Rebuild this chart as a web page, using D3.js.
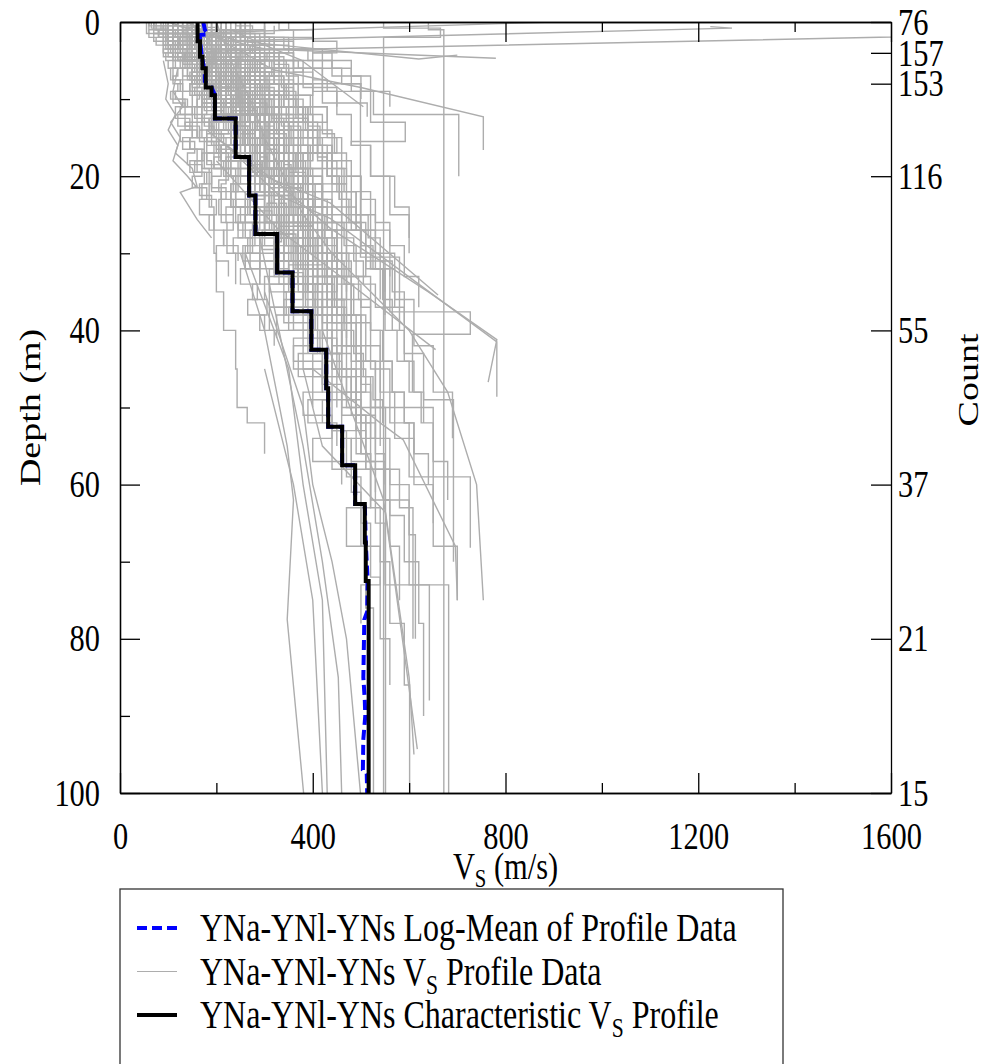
<!DOCTYPE html>
<html>
<head>
<meta charset="utf-8">
<script src="https://cdn.jsdelivr.net/npm/d3@7"></script>
<style>
  body { margin: 0; background: #fff; }
  svg text { font-family: "Liberation Serif", "Times New Roman", serif; fill: #000; }
</style>
</head>
<body>
<svg id="chart" width="987" height="1064"></svg>
<script>
// characteristic profile: layer boundaries (m) and Vs (m/s) per layer
const charDepths = [0, 2.5, 4.5, 6, 8.5, 9.5, 12.5, 17.5, 22.5, 27.5, 32.5, 37.5, 42.5, 47.5, 52.5, 57.5, 62.5, 67.5, 72.5, 100];
const charVs = [161, 166, 171, 178, 190, 197, 240, 268, 281, 326, 358, 397, 428, 432, 461, 488, 508, 510, 516];

// log-mean of profile data, [Vs, depth]
const logMean = [
  [173, 0], [176, 1.0], [181, 1.4], [181, 1.6], [166, 1.7], [166, 2.5], [170, 4.5], [176, 6.5], [176, 7.7],
  [190, 8.5], [197, 9.5], [197, 12.5], [240, 12.5], [240, 17.5], [268, 17.5], [268, 22.5], [281, 22.5],
  [281, 27.5], [326, 27.5], [326, 32.5], [358, 32.5], [358, 37.5], [397, 37.5], [397, 42.5], [428, 42.5],
  [428, 47.5], [432, 47.5], [432, 52.5], [461, 52.5], [461, 57.5], [488, 57.5], [488, 62.5], [508, 62.5],
  [510, 67.5], [514, 72.5], [513, 76.5], [507, 77.5], [505, 85], [508, 88], [509, 90], [505, 93],
  [504, 97], [512, 97.5], [513, 100]
];

// right-hand count axis
const countDepths = [0, 4, 8, 20, 40, 60, 80, 100];
const countLabels = [76, 157, 153, 116, 55, 37, 21, 15];

const xTicks = [0, 400, 800, 1200, 1600];
const xMinor = [200, 600, 1000, 1400];
const yTicks = [0, 20, 40, 60, 80, 100];
const yMinor = [10, 30, 50, 70, 90];

// layered Vs profiles: [top depth, [[Vs, bottom depth], ...]]
const stepProfiles = [
  [0, [[85, 1], [110, 2.5], [150, 4], [190, 6], [230, 9]]],
  [1, [[60, 2], [95, 3.5], [140, 5], [175, 7.5], [200, 10], [240, 13]]],
  [0, [[140, 1.5], [170, 3], [210, 5], [250, 7], [300, 9], [340, 11]]],
  [0.5, [[200, 2], [260, 4], [320, 5.5], [350, 8], [420, 10.5], [513, 12.3]]],
  [2, [[75, 3], [110, 4.5], [160, 6.5], [210, 9], [250, 12], [290, 15]]],
  [0, [[180, 1], [230, 2.5], [280, 4], [330, 6], [380, 8.5], [450, 11]]],
  [1.5, [[120, 3], [150, 5], [180, 7], [220, 10], [270, 14], [300, 17]]],
  [0, [[55, 1.5], [90, 3], [130, 5], [160, 8]]],
  [3, [[160, 5], [200, 7.5], [230, 10], [280, 13], [310, 16], [350, 19]]],
  [0, [[250, 1], [300, 2], [350, 3.5], [420, 5], [480, 7], [520, 9]]],
  [1, [[100, 2.5], [140, 4], [170, 6], [200, 9], [260, 12], [300, 16], [330, 19]]],
  [0, [[130, 2], [180, 4], [200, 6], [240, 8], [270, 11]]],
  [2.5, [[190, 4], [230, 6], [270, 8], [310, 11], [360, 14], [400, 18]]],
  [0, [[95, 1], [130, 2], [165, 3.5], [195, 5.5], [220, 8], [255, 11], [285, 14]]],
  [0.5, [[300, 2], [340, 3.5], [390, 5], [440, 7], [500, 9], [560, 11]]],
  [1, [[80, 2], [120, 3.5], [160, 5.5], [200, 8]]],
  [0, [[210, 2.5], [250, 5], [290, 8], [330, 12], [380, 16], [420, 19]]],
  [4, [[140, 6], [170, 8], [200, 11], [250, 15], [290, 18]]],
  [0, [[65, 0.8], [100, 2], [125, 3.5], [150, 5], [185, 7], [205, 9.5], [235, 12]]],
  [2, [[170, 3.5], [150, 5], [190, 7], [240, 9], [260, 12], [310, 15]]],
  [0, [[350, 1], [400, 2.5], [450, 4], [400, 6], [460, 8], [500, 10]]],
  [1, [[115, 2], [145, 3], [165, 4.5], [185, 6.5], [205, 9], [230, 11.5], [260, 14], [280, 17]]],
  [0, [[160, 0.7], [140, 2], [175, 3.5], [200, 5], [230, 7], [270, 9], [310, 12]]],
  [3, [[100, 4.5], [125, 6], [150, 8], [175, 10], [195, 12], [215, 14], [240, 17], [270, 20]]],
  [0, [[120, 1], [140, 2], [125, 3], [160, 4], [150, 5], [180, 6], [170, 7], [200, 8], [190, 9], [220, 10]]],
  [0.5, [[200, 1.5], [180, 2.5], [210, 3.5], [240, 4.5], [220, 5.5], [250, 6.5], [280, 8], [260, 9.5], [300, 11]]],
  [1, [[90, 2], [110, 3], [105, 4], [130, 5], [145, 6], [160, 7], [150, 8], [175, 9], [190, 10], [210, 12]]],
  [0, [[230, 1], [260, 2], [240, 3], [270, 4], [300, 5], [280, 6], [320, 7], [300, 8], [340, 9]]],
  [2, [[140, 3], [160, 4], [180, 5], [170, 6], [200, 7], [190, 8], [220, 9], [240, 10.5], [260, 12], [290, 14]]],
  [0, [[60, 1], [80, 2], [100, 3], [115, 4], [140, 5], [160, 6], [180, 8], [200, 10]]],
  [1.5, [[170, 2.5], [190, 3.5], [175, 4.5], [210, 5.5], [230, 7], [250, 8.5], [270, 10], [295, 12]]],
  [0, [[110, 0.5], [150, 1.5], [170, 2.5], [155, 3.5], [190, 4.5], [210, 6], [230, 7.5], [220, 9], [250, 10.5], [270, 12], [290, 14]]],
  [3, [[120, 4], [145, 5], [165, 6], [185, 7], [210, 8.5], [230, 10], [250, 12], [270, 14], [300, 16]]],
  [0, [[250, 1.5], [220, 3], [260, 4.5], [290, 6], [270, 7.5], [310, 9], [350, 11], [380, 13]]],
  [1, [[80, 1.5], [100, 2.5], [120, 3.5], [135, 4.5], [150, 5.5], [170, 7], [185, 8.5], [200, 10], [215, 12], [230, 14], [250, 16]]],
  [0, [[180, 0.7], [200, 1.5], [190, 2.5], [220, 3.5], [240, 5], [260, 6.5], [250, 8], [280, 9.5], [300, 11], [320, 13], [340, 15]]],
  [2, [[100, 3], [130, 4], [115, 5], [150, 6], [170, 7], [160, 8], [190, 9], [210, 10], [230, 12]]],
  [0, [[140, 1], [165, 2], [180, 3], [200, 4], [185, 5], [215, 6], [235, 7], [255, 8.5], [245, 10], [275, 12], [300, 14], [320, 17]]],
  [1, [[150, 2], [130, 3], [160, 4], [195, 5], [180, 6], [210, 7.5], [240, 9], [265, 11], [290, 13], [310, 15]]],
  [0, [[75, 1], [95, 2], [120, 3], [140, 4], [135, 5], [160, 6], [175, 7.5], [190, 9]]],
  [4, [[200, 5], [220, 6], [240, 7], [230, 8], [260, 9], [280, 10.5], [300, 12], [330, 14], [360, 16], [390, 18]]],
  [0.5, [[130, 1.5], [145, 2.5], [160, 3.5], [175, 4.5], [190, 5.5], [205, 6.5], [220, 7.5], [235, 9], [250, 10.5], [265, 12], [280, 13.5], [295, 15], [310, 17], [330, 19]]],
  [0, [[300, 1], [270, 2], [320, 3], [350, 4], [330, 5], [370, 6], [400, 7.5], [430, 9]]],
  [2.5, [[160, 3.5], [180, 4.5], [200, 5.5], [185, 6.5], [215, 7.5], [240, 9], [255, 10.5], [275, 12], [290, 14], [320, 16]]],
  [1, [[110, 2], [125, 3], [150, 4], [140, 5], [170, 6], [190, 7], [205, 8], [225, 9.5], [245, 11], [260, 13], [280, 15], [300, 17], [320, 20]]],
  [0, [[190, 1], [215, 2], [235, 3], [220, 4], [250, 5], [275, 6.5], [300, 8], [290, 9.5], [320, 11], [345, 13], [370, 15]]],
  [3, [[90, 4], [110, 5], [130, 6], [150, 7], [165, 8], [180, 9], [200, 10.5], [215, 12], [235, 14], [255, 16], [275, 18], [295, 20]]],
  [0, [[160, 1.5], [175, 3], [195, 4.5], [215, 6], [230, 7.5], [245, 9], [265, 11], [285, 13], [305, 15], [325, 17]]],
  [0, [[70, 0.5], [90, 1], [80, 1.5], [100, 2], [95, 2.5], [115, 3], [105, 3.5], [125, 4], [120, 5], [140, 6], [130, 7], [150, 8], [145, 9], [165, 10], [160, 11], [180, 12], [175, 13.5], [195, 15]]],
  [1, [[130, 1.5], [115, 2], [140, 2.5], [125, 3], [150, 4], [135, 5], [160, 6], [150, 7], [170, 8], [160, 9], [185, 10], [175, 11.5], [200, 13], [190, 14.5], [215, 16], [205, 18], [230, 20]]],
  [0, [[160, 0.5], [180, 1], [170, 1.5], [195, 2], [185, 3], [205, 4], [195, 5], [220, 6], [210, 7], [235, 8], [225, 9], [250, 10], [240, 11.5], [265, 13], [255, 14.5], [280, 16], [270, 18], [295, 20]]],
  [2, [[110, 2.5], [130, 3], [120, 3.5], [140, 4.5], [130, 5.5], [155, 6.5], [145, 7.5], [165, 8.5], [155, 9.5], [180, 11], [170, 12.5], [190, 14], [180, 15.5], [205, 17], [195, 19], [220, 21], [210, 23], [235, 25]]],
  [0, [[210, 1], [240, 2], [225, 3], [260, 4], [245, 5], [275, 6], [260, 7.5], [290, 9], [275, 10.5], [305, 12], [290, 14], [320, 16], [305, 18], [335, 20], [320, 22.5], [350, 25], [335, 27.5], [365, 30]]],
  [3, [[150, 3.5], [165, 4], [155, 5], [175, 6], [165, 7], [190, 8], [180, 9], [200, 10], [190, 11.5], [215, 13], [205, 14.5], [230, 16], [220, 18], [245, 20], [235, 22], [260, 24], [250, 26], [275, 28], [265, 30], [290, 32]]],
  [0.5, [[100, 1], [120, 1.5], [110, 2], [135, 3], [125, 4], [150, 5], [140, 6], [165, 7], [155, 8], [180, 9.5], [170, 11], [195, 12.5], [185, 14], [210, 15.5], [200, 17], [225, 19]]],
  [1, [[190, 1.5], [215, 2], [200, 3], [230, 4], [215, 5], [245, 6], [230, 7], [260, 8.5], [245, 10], [275, 11.5], [260, 13], [290, 15], [275, 17], [305, 19], [290, 21], [320, 23.5], [305, 26], [335, 28.5], [320, 31], [350, 34]]],
  [0, [[240, 0.5], [275, 1], [255, 2], [290, 3], [270, 4], [305, 5], [285, 6.5], [320, 8], [300, 9.5], [335, 11], [315, 13], [350, 15], [330, 17], [365, 19], [345, 21.5], [380, 24], [360, 26.5], [395, 29], [375, 32], [410, 35]]],
  [2, [[200, 3], [180, 3.5], [210, 4.5], [190, 5.5], [225, 6.5], [205, 7.5], [240, 8.5], [220, 10], [255, 11.5], [235, 13], [270, 14.5], [250, 16], [285, 18], [265, 20], [300, 22], [280, 24.5], [315, 27], [295, 29.5], [330, 32], [310, 35], [345, 38], [325, 41]]],
  [5, [[100, 6], [120, 7], [110, 8], [130, 9], [115, 10], [140, 11], [125, 12], [150, 13], [135, 14], [160, 15], [145, 16.5], [170, 18], [155, 19.5], [180, 21], [165, 22.5], [190, 24]]],
  [8, [[120, 9], [105, 10], [135, 11], [115, 12.5], [145, 14], [125, 15.5], [155, 17], [140, 18.5], [170, 20], [150, 21.5], [180, 23], [165, 25], [195, 27]]],
  [4, [[95, 5], [115, 6], [105, 7.5], [125, 9], [110, 10.5], [135, 12], [120, 13.5], [150, 15], [130, 16.5], [160, 18], [145, 19.5], [175, 21]]],
  [6, [[140, 7], [160, 8], [145, 9.5], [170, 11], [155, 12.5], [185, 14], [165, 15.5], [195, 17], [180, 18.5], [210, 20], [190, 21.5], [220, 23], [205, 25], [235, 27], [215, 29], [245, 31]]],
  [10, [[130, 11], [150, 12], [135, 13.5], [165, 15], [145, 16.5], [175, 18], [160, 19.5], [190, 21], [170, 23], [200, 25], [185, 27], [215, 29], [200, 31], [225, 33]]],
  [3, [[180, 4], [165, 5], [190, 6], [175, 7], [200, 8.5], [185, 10], [215, 11.5], [195, 13], [225, 14.5], [205, 16], [240, 17.5], [220, 19], [250, 21], [230, 23], [265, 25], [245, 27], [280, 29], [255, 31], [290, 33]]],
  [12, [[170, 13], [195, 14.5], [180, 16], [210, 17.5], [195, 19], [225, 20.5], [205, 22], [240, 24], [220, 26], [255, 28], [235, 30], [270, 32], [250, 34], [285, 36], [265, 38], [300, 40]]],
  [15, [[200, 16.5], [230, 18], [215, 20], [245, 22], [230, 24], [260, 26], [245, 28], [275, 30], [260, 32], [290, 34], [275, 36], [305, 38], [290, 40], [320, 42]]],
  [0, [[100, 1], [220, 2], [140, 3], [260, 4.5], [180, 6], [300, 7.5], [200, 9], [280, 11], [230, 13], [320, 15]]],
  [1, [[250, 2], [130, 3.5], [200, 5], [150, 6.5], [240, 8], [180, 10], [290, 12], [220, 14], [330, 16], [260, 18], [350, 20]]],
  [0, [[180, 0.5], [90, 1.5], [160, 2.5], [120, 3.5], [210, 5], [170, 6.5], [260, 8], [210, 10], [300, 12], [250, 14], [330, 17], [290, 20], [380, 23]]],
  [2, [[300, 3], [200, 4], [250, 5.5], [170, 7], [240, 8.5], [200, 10], [280, 12], [240, 14], [310, 16], [270, 18], [340, 21], [300, 24], [370, 27], [330, 30]]],
  [0, [[130, 1], [80, 2], [150, 3], [110, 4.5], [190, 6], [140, 7.5], [210, 9], [170, 11], [240, 13], [200, 15], [270, 17], [230, 20], [300, 23], [260, 26], [330, 29], [290, 32]]],
  [0.5, [[220, 1.5], [160, 2.5], [280, 3.5], [190, 5], [320, 6.5], [230, 8], [350, 9.5], [260, 11], [380, 13], [280, 15], [400, 17], [310, 20], [420, 23]]],
  [3, [[170, 4], [120, 5], [200, 6], [150, 7], [230, 8.5], [170, 10], [250, 12], [190, 14], [280, 16], [210, 18], [300, 21], [240, 24], [330, 27], [270, 30], [360, 33], [300, 36]]],
  [0, [[60, 0.5], [120, 1.5], [70, 2.5], [140, 3.5], [90, 4.5], [160, 6], [110, 7.5], [180, 9], [130, 11], [200, 13], [150, 15], [220, 17], [170, 19], [240, 22]]],
  [1, [[190, 2], [260, 3], [210, 4], [290, 5], [230, 6.5], [310, 8], [250, 9.5], [330, 11], [270, 13], [350, 15], [290, 17], [370, 19], [310, 22], [390, 25], [330, 28], [410, 31], [350, 34], [430, 37]]],
  [0, [[150, 1.5], [230, 3], [170, 4.5], [250, 6], [190, 7.5], [270, 9], [210, 11], [290, 13], [230, 15], [310, 17], [250, 19], [330, 22], [270, 25], [350, 28], [290, 31], [370, 34], [310, 37], [390, 40]]],
  [2, [[110, 3], [170, 4], [130, 5], [190, 6.5], [150, 8], [210, 9.5], [170, 11], [230, 13], [190, 15], [250, 17], [210, 19], [270, 21], [230, 24], [290, 27]]],
  [0, [[270, 1], [200, 2], [310, 3], [240, 4.5], [340, 6], [260, 7.5], [360, 9], [280, 11], [390, 13], [310, 15], [420, 17], [340, 19]]],
  [1.5, [[140, 2.5], [100, 3.5], [170, 4.5], [130, 5.5], [200, 7], [150, 8.5], [220, 10], [170, 12], [250, 14], [190, 16], [270, 18], [220, 20], [300, 23], [240, 26], [320, 29], [260, 32], [350, 35]]],
  [0, [[200, 1], [250, 2], [180, 3], [280, 4], [210, 5.5], [300, 7], [240, 8.5], [320, 10], [260, 12], [350, 14], [280, 16], [370, 18], [300, 20], [400, 23], [330, 26], [420, 29], [360, 32], [450, 35], [380, 38], [470, 41]]],
  [4, [[130, 5], [190, 6], [150, 7.5], [220, 9], [170, 10.5], [240, 12], [190, 14], [270, 16], [210, 18], [290, 20], [240, 22], [310, 25], [260, 28], [340, 31], [290, 34], [360, 37], [310, 40], [390, 43]]],
  [0, [[90, 1], [150, 2], [110, 3], [180, 4], [130, 5], [200, 6], [150, 7.5], [220, 9], [170, 10.5], [240, 12], [190, 14], [260, 16], [210, 18]]],
  [0.5, [[320, 1.5], [250, 2.5], [360, 3.5], [280, 5], [380, 6.5], [300, 8], [400, 9.5], [320, 11], [430, 13], [350, 15], [450, 17], [370, 19], [470, 21], [390, 24], [490, 27], [420, 30], [510, 33], [440, 36]]],
  [2, [[160, 3], [220, 4], [180, 5], [240, 6], [200, 7.5], [260, 9], [220, 10.5], [280, 12], [240, 14], [300, 16], [260, 18], [320, 20], [280, 22.5], [340, 25], [300, 27.5], [360, 30], [320, 32.5], [380, 35], [340, 38], [400, 41], [360, 44], [420, 47]]],
  [0, [[170, 1], [130, 2], [190, 3], [150, 4], [210, 5], [170, 6], [230, 7.5], [190, 9], [250, 10.5], [210, 12], [270, 14], [230, 16], [290, 18], [250, 20], [310, 22.5], [270, 25], [330, 27.5], [290, 30]]],
  [1, [[240, 2], [180, 3], [270, 4], [200, 5], [290, 6.5], [220, 8], [310, 9.5], [250, 11], [330, 13], [270, 15], [350, 17], [290, 19], [380, 21.5], [310, 24], [400, 26.5], [330, 29], [420, 31.5], [350, 34], [440, 37], [380, 40], [460, 43], [400, 46], [480, 49], [420, 52]]],
  [0, [[200, 2], [260, 4], [220, 6], [280, 8], [240, 10], [300, 12], [260, 15], [320, 18], [280, 21], [340, 24], [300, 27], [360, 30], [320, 33], [380, 36], [340, 39], [400, 42], [360, 45], [420, 48], [380, 51], [440, 54], [400, 57], [460, 60]]],
  [1, [[150, 3], [210, 5], [180, 7], [240, 9], [210, 11], [270, 13.5], [240, 16], [300, 19], [270, 22], [330, 25], [300, 28], [360, 31], [330, 34], [390, 37], [350, 40], [410, 43], [370, 46], [430, 49], [390, 52], [450, 55]]],
  [0, [[260, 2], [320, 4], [280, 6], [350, 8], [300, 10], [370, 12.5], [330, 15], [400, 18], [350, 21], [420, 24], [380, 27], [450, 30], [400, 33], [470, 36], [420, 39], [490, 42], [440, 45], [510, 48], [460, 51], [530, 54], [480, 57], [550, 60]]],
  [0, [[180, 3], [220, 6], [260, 10], [300, 14], [340, 18], [370, 23], [400, 28], [430, 33], [400, 38], [460, 43], [420, 48], [490, 53], [440, 58], [520, 63], [470, 68], [540, 73], [500, 78]]],
  [0, [[120, 2], [150, 4], [185, 6.5], [220, 9], [250, 12], [280, 15], [320, 19], [360, 23], [400, 28], [430, 33]]],
  [1, [[160, 2.5], [200, 4.5], [240, 7], [280, 10], [300, 13], [340, 17], [380, 21], [420, 26], [470, 31]]],
  [0, [[70, 1.5], [100, 3], [140, 5], [180, 7.5], [210, 10], [250, 13], [280, 17], [300, 21], [330, 25]]],
  [2, [[230, 4], [270, 6.5], [310, 9], [350, 12.5], [390, 16], [430, 20], [460, 25], [500, 30], [540, 36]]],
  [0, [[180, 1], [200, 3], [230, 5], [260, 8], [280, 11], [310, 15], [330, 19], [360, 24], [380, 29], [400, 34]]],
  [1.5, [[90, 3], [130, 5], [170, 8], [200, 11], [230, 14], [260, 18], [290, 22], [310, 27]]],
  [0, [[260, 2], [310, 4], [360, 6.5], [400, 9], [450, 12], [480, 16], [520, 20], [570, 24], [600, 28]]],
  [3, [[140, 5], [180, 8], [210, 11], [240, 14], [270, 17], [300, 21], [340, 25], [370, 30], [390, 35]]],
  [0, [[150, 1.5], [170, 3], [190, 5], [210, 7], [240, 10], [260, 13], [290, 16], [320, 20], [340, 24], [370, 28], [400, 32], [430, 37]]],
  [0.5, [[110, 2], [150, 4], [200, 6], [230, 9], [260, 12], [290, 16], [320, 20], [350, 25], [380, 30], [410, 38]]],
  [0, [[200, 1.5], [240, 3], [280, 5], [320, 8], [360, 11], [400, 14], [440, 18], [480, 22], [520, 27], [560, 33]]],
  [2, [[170, 4], [190, 6], [220, 9], [250, 12], [270, 15], [300, 19], [320, 23], [350, 27], [390, 32]]],
  [0, [[100, 1], [140, 2.5], [180, 4], [200, 6], [220, 8], [240, 11], [270, 14], [290, 17], [310, 21], [340, 26], [370, 30]]],
  [1, [[210, 3], [240, 5], [270, 8], [290, 11], [320, 15], [350, 19], [390, 23], [420, 28], [450, 34], [480, 39]]],
  [0, [[160, 2], [180, 4], [200, 7], [230, 10], [260, 13], [290, 17], [330, 21], [380, 26], [420, 31], [460, 37]]],
  [0.5, [[130, 1.5], [160, 3], [190, 5], [220, 7], [250, 10], [270, 13], [300, 16], [330, 20], [360, 24], [390, 29]]],
  [4, [[180, 6], [210, 9], [240, 12], [270, 15], [300, 18], [330, 22], [360, 26], [400, 30], [440, 35]]],
  [0, [[300, 2], [360, 5], [420, 8], [499, 30.5], [580, 40]]],
  [1, [[150, 3], [170, 5], [200, 8], [220, 11], [240, 14], [260, 18], [280, 22], [300, 26], [330, 31], [360, 36]]],
  [2, [[120, 3.5], [160, 5], [190, 7], [210, 10], [230, 13], [260, 16], [280, 20], [310, 24], [340, 28]]],
  [0.5, [[250, 2], [300, 4], [360, 6], [420, 9], [526, 12], [703, 20]]],
  [0, [[140, 1], [160, 2], [190, 4], [220, 6], [250, 9], [280, 12], [310, 15], [350, 19], [390, 23], [430, 27], [470, 32]]],
  [1, [[230, 2.5], [260, 5], [300, 8], [340, 11], [370, 14], [410, 18], [450, 22], [490, 27], [530, 32], [570, 37]]],
  [0, [[110, 2], [140, 4], [170, 6], [190, 9], [210, 12], [230, 16], [250, 20], [270, 24], [300, 29]]],
  [3, [[200, 5], [250, 8], [290, 11], [330, 14], [370, 17], [420, 22], [460, 27], [510, 32], [550, 38]]],
  [0, [[330, 1], [360, 2], [400, 4], [440, 6], [480, 9], [520, 13], [592, 15.5], [480, 16], [520, 20], [560, 25], [600, 30]]],
  [0, [[130, 1], [150, 2], [170, 3], [160, 4], [185, 5], [200, 6.5], [215, 8], [230, 9.5], [250, 11], [265, 13], [280, 15], [300, 17], [320, 19], [335, 21], [355, 24], [375, 27], [395, 30]]],
  [1, [[170, 2], [190, 3], [210, 4], [200, 5], [225, 6], [245, 7.5], [260, 9], [280, 11], [300, 13], [320, 15], [340, 17], [360, 20], [380, 23], [400, 26], [425, 29], [450, 32], [470, 35]]],
  [0.5, [[100, 1.5], [125, 2.5], [145, 3.5], [160, 5], [175, 6.5], [190, 8], [205, 10], [220, 12], [240, 14], [255, 16], [270, 18], [285, 20], [300, 22], [315, 25], [335, 28], [355, 31], [370, 34]]],
  [2, [[210, 3], [230, 4], [250, 5], [240, 6], [270, 7.5], [290, 9], [310, 11], [330, 13], [350, 15], [370, 17], [395, 20], [420, 23], [440, 26], [465, 29], [490, 33], [520, 37]]],
  [0, [[150, 1], [170, 2], [185, 3.5], [200, 5], [220, 6.5], [235, 8], [250, 10], [265, 12], [280, 14], [295, 16], [310, 18], [325, 20], [340, 22.5], [355, 25], [370, 28], [385, 31], [400, 34], [420, 38]]],
  [0, [[220, 1], [250, 2.5], [275, 4], [300, 6], [320, 8], [345, 10], [365, 12.5], [390, 15], [410, 17.5], [430, 20], [455, 23], [480, 26], [500, 29], [525, 32], [550, 35]]],
  [1.5, [[140, 2.5], [155, 3.5], [175, 4.5], [195, 6], [215, 7.5], [230, 9], [245, 11], [260, 13], [275, 15], [290, 17.5], [305, 20], [320, 22.5], [335, 25], [350, 28], [370, 31], [385, 35], [400, 39]]],
  [0, [[180, 1.5], [205, 3], [225, 4.5], [245, 6], [265, 8], [285, 10], [305, 12], [325, 14.5], [345, 17], [365, 19.5], [385, 22], [405, 25], [425, 28], [445, 31], [465, 34], [485, 38]]],
  [3, [[170, 4], [190, 5.5], [210, 7], [225, 9], [240, 11], [255, 13], [270, 15], [285, 17], [300, 19], [315, 21], [330, 23.5], [345, 26], [360, 29], [380, 32], [400, 35]]],
  [0, [[110, 1], [135, 2], [155, 3.5], [175, 5], [190, 6.5], [205, 8], [220, 10], [235, 12], [250, 14], [265, 16], [280, 18.5], [295, 21], [310, 23.5], [325, 26], [345, 29], [365, 32], [385, 36], [405, 40]]],
  [1, [[240, 2], [265, 3.5], [290, 5], [315, 7], [340, 9], [365, 11], [390, 13.5], [415, 16], [440, 19], [465, 22], [490, 25], [515, 28], [540, 31], [565, 35], [590, 39]]],
  [0, [[190, 2], [210, 4], [230, 6], [250, 8], [270, 10], [290, 12], [310, 14.5], [330, 17], [350, 19.5], [370, 22], [390, 25], [410, 28], [430, 31], [450, 35]]],
  [2, [[125, 3], [145, 4.5], [165, 6], [180, 7.5], [195, 9], [210, 11], [225, 13], [245, 15], [260, 17], [275, 19.5], [290, 22], [310, 25], [325, 28], [340, 31]]],
  [0, [[260, 1.5], [290, 3], [320, 5], [345, 7], [370, 9.5], [395, 12], [420, 14.5], [445, 17], [470, 20], [500, 23], [530, 26], [560, 29], [590, 33], [620, 37]]],
  [2, [[90, 4], [110, 6], [130, 9], [150, 12], [160, 15], [175, 19], [185, 24], [195, 30], [200, 35], [215, 40], [240, 45], [243, 50], [264, 52], [300, 56]]],
  [0, [[70, 1], [95, 2.5], [115, 4], [135, 6], [150, 9], [160, 12], [170, 15], [180, 18], [190, 22], [210, 26], [222, 30], [240, 34]]],
  [0, [[180, 2], [200, 4], [230, 7], [260, 10], [290, 14], [320, 18], [350, 22], [380, 27], [410, 32], [440, 37], [470, 42], [500, 47], [520, 52]]],
  [1, [[130, 3], [160, 5], [200, 8], [230, 11], [260, 15], [290, 19], [310, 24], [340, 29], [370, 34], [410, 40], [440, 45], [470, 50], [500, 56]]],
  [0, [[220, 2], [260, 4], [300, 7], [340, 10], [380, 13], [410, 17], [440, 22], [480, 27], [520, 32], [560, 37.6], [727, 40.5], [607, 48]]],
  [0.5, [[160, 2], [190, 5], [220, 8], [240, 11], [270, 14], [300, 18], [320, 22], [350, 26], [370, 31], [400, 36], [420, 41], [450, 46], [480, 51], [510, 58]]],
  [2, [[200, 4], [230, 7], [270, 10], [300, 14], [330, 18], [360, 23], [390, 28], [420, 33], [450, 38], [490, 44], [530, 50]]],
  [0, [[240, 1.5], [280, 3], [320, 5], [360, 8], [400, 11], [430, 15], [460, 20], [500, 25], [530, 30], [570, 36], [610, 42], [650, 48], [690, 54]]],
  [0, [[100, 1.5], [140, 3], [170, 5], [200, 8], [220, 11], [250, 14], [270, 18], [290, 22], [300, 26], [320, 30], [340, 35], [360, 40], [380, 45], [400, 50]]],
  [0, [[160, 1.5], [185, 3], [205, 5], [225, 7], [245, 9], [265, 11.5], [285, 14], [305, 16.5], [325, 19], [345, 22], [365, 25], [385, 28], [405, 31], [425, 34], [445, 37], [465, 40], [485, 43], [505, 46], [525, 49], [545, 52]]],
  [1, [[200, 2.5], [225, 4], [250, 6], [270, 8], [295, 10], [315, 12.5], [340, 15], [360, 18], [385, 21], [405, 24], [430, 27], [450, 30], [475, 33], [495, 36], [520, 40], [540, 44], [565, 48], [590, 52], [610, 56]]],
  [0, [[140, 2], [165, 4], [190, 6], [210, 8.5], [230, 11], [250, 13.5], [270, 16], [290, 19], [310, 22], [330, 25], [350, 28], [370, 31], [390, 34], [405, 37], [420, 40], [440, 43], [455, 46], [470, 49], [490, 53], [510, 57], [530, 61]]],
  [2, [[230, 3.5], [255, 5], [280, 7], [305, 9], [330, 11], [350, 13.5], [375, 16], [395, 19], [420, 22], [440, 25], [460, 28], [485, 31], [505, 34], [530, 37], [550, 40], [575, 44], [600, 48], [625, 52], [650, 57], [680, 62]]],
  [0, [[120, 1.5], [145, 3], [170, 4.5], [190, 6.5], [210, 8.5], [230, 11], [250, 13.5], [265, 16], [285, 19], [300, 22], [320, 25], [335, 28], [350, 31], [370, 34], [385, 37], [400, 40], [415, 43], [430, 46], [450, 50]]],
  [0.5, [[210, 2], [240, 4], [265, 6], [290, 8.5], [310, 11], [335, 13.5], [355, 16], [375, 19], [400, 22], [420, 25], [440, 28], [460, 31], [480, 34], [500, 37], [520, 40], [545, 44], [565, 48], [590, 52], [610, 56], [640, 60]]],
  [1, [[180, 2], [200, 3.5], [220, 5], [240, 7], [260, 9], [280, 11], [300, 13.5], [320, 16], [340, 18.5], [355, 21], [375, 24], [395, 27], [410, 30], [430, 33], [445, 36], [465, 39], [480, 42], [500, 46], [520, 50], [540, 55]]],
  [0, [[250, 2], [280, 4], [310, 6], [335, 8.5], [360, 11], [385, 14], [410, 17], [430, 20], [455, 23], [475, 26], [500, 29], [520, 32], [545, 36], [565, 40], [590, 44], [610, 48], [630, 52]]],
  [0, [[170, 2], [200, 5], [240, 8], [270, 12], [310, 16], [340, 21], [370, 26], [400, 31], [430, 36], [460, 42], [490, 48], [520, 54], [560, 60], [600, 66.5], [613, 80]]],
  [1, [[220, 3], [250, 6], [290, 9], [320, 13], [350, 17], [380, 22], [420, 27], [450, 32], [480, 38], [510, 44], [540, 50], [650, 54], [650, 65]]],
  [0, [[150, 2], [180, 4], [210, 7], [240, 10], [270, 14], [300, 18], [330, 23], [350, 28], [380, 33], [410, 38], [430, 44], [460, 50], [490, 56], [520, 62], [560, 68], [580, 75]]],
  [0.5, [[250, 2], [290, 5], [330, 8], [370, 12], [400, 16], [440, 21], [470, 26], [510, 31], [550, 37], [590, 43], [630, 49], [692, 56], [692, 70]]],
  [0, [[200, 3], [240, 6], [280, 9], [310, 13], [340, 17], [370, 22], [400, 27], [440, 33], [480, 39], [520, 45], [560, 52], [600, 59], [727, 68.2]]],
  [2, [[180, 4], [210, 7], [250, 10], [280, 14], [320, 18], [350, 23], [380, 28], [410, 34], [440, 40], [470, 46], [500, 52], [530, 58], [580, 63], [608, 80]]],
  [0, [[190, 2], [220, 5], [260, 8], [300, 12], [330, 16], [360, 20], [390, 25], [420, 30], [460, 36], [500, 42], [540, 48], [570, 54], [610, 60], [650, 68], [700, 75]]],
  [0, [[160, 2], [190, 5], [220, 8], [250, 11], [280, 15], [310, 19], [340, 24], [370, 29], [400, 34], [430, 40], [460, 46], [490, 52], [520, 58], [560, 64], [590, 70], [620, 78], [630, 90]]],
  [1, [[200, 3], [240, 6], [270, 9], [300, 13], [330, 17], [360, 22], [390, 27], [420, 32], [450, 38], [480, 44], [500, 50], [530, 56], [550, 62], [600, 73], [642, 88]]],
  [0, [[140, 2], [170, 5], [200, 8], [230, 12], [260, 16], [290, 20], [310, 25], [340, 30], [370, 35], [400, 41], [420, 47], [440, 53], [470, 59], [500, 65], [520, 72], [540, 80], [560, 86]]],
  [0, [[547, 0.8], [665, 2], [547, 100]]],
  [0, [[640, 1], [672, 100]]],
  [0, [[180, 2], [210, 5], [240, 8], [270, 12], [300, 16], [330, 21], [360, 26], [390, 31], [420, 37], [450, 43], [480, 49], [500, 56], [520, 63], [540, 70], [560, 78], [590, 86], [601, 100]]],
  [1, [[200, 3], [230, 6], [260, 10], [290, 14], [320, 18], [350, 23], [380, 28], [410, 33], [440, 39], [460, 45], [490, 51], [510, 58], [530, 65], [550, 73], [682, 100]]],
  [0, [[150, 2], [180, 4], [220, 7], [250, 11], [280, 15], [300, 19], [330, 24], [360, 29], [390, 35], [420, 41], [440, 47], [460, 54], [480, 61], [500, 68], [510, 76], [526, 100]]],
  [0.5, [[210, 2], [250, 5], [290, 8], [330, 12], [360, 16], [390, 21], [420, 26], [450, 32], [470, 38], [500, 44], [530, 50], [551, 63], [551, 100]]]
];

// gradient-type profiles: [[Vs, depth], ...]
const lineProfiles = [
  [[150, 0], [165, 2], [180, 3.8], [1950, 1.5]],
  [[140, 0], [190, 2.5], [1270, 0.8], [1225, 0.6]],
  [[100, 0], [140, 0.8], [180, 1.4], [900, 0]],
  [[120, 0.5], [200, 2], [300, 3.5], [780, 4.7]],
  [[160, 1], [250, 2.5], [620, 4.8], [700, 4.3]],
  [[140, 0], [200, 2], [318, 6.2], [500, 8.5], [754, 12.3], [754, 16.6]],
  [[230, 1], [300, 3], [375, 4.9], [505, 11]],
  [[90, 5], [100, 8], [95, 10], [115, 12], [100, 14], [120, 16], [110, 18], [140, 20], [160, 21.5]],
  [[120, 6], [110, 9], [130, 11], [105, 13], [125, 15], [115, 17], [150, 19], [160, 21.3], [125, 22.1], [160, 25.6], [190, 28]],
  [[180, 14], [300, 20], [437, 23.5], [660, 35.4]],
  [[200, 15], [330, 21], [437, 26.8], [640, 35], [782, 41.2], [764, 46.7]],
  [[220, 16], [330, 22.5], [437, 25.5], [620, 34], [782, 41.5], [782, 48.6]],
  [[200, 18], [330, 27], [437, 32], [655, 42.5]],
  [[380, 45], [420, 55], [551, 63.6], [600, 85], [610, 95]],
  [[250, 30], [300, 40], [347, 55], [360, 62], [347, 77.5], [381, 100]],
  [[300, 35], [380, 50], [400, 60], [440, 70], [470, 80], [499, 100]],
  [[260, 30], [350, 45], [380, 60], [420, 75], [430, 100]],
  [[420, 40], [547, 62], [617, 94.3]],
  [[200, 0], [230, 5], [270, 10], [300, 15], [340, 20], [380, 25], [440, 30], [520, 35], [600, 40], [680, 48], [740, 60], [754, 75]],
  [[400, 45], [540, 52], [588, 54.2], [696, 68], [700, 75]],
  [[280, 25], [330, 40], [380, 55], [420, 70], [453, 85], [460, 100]],
  [[300, 45], [360, 60], [400, 75], [420, 100]]
];

const legendLabels = [
  ['YNa-YNl-YNs Log-Mean of Profile Data', '', ''],
  ['YNa-YNl-YNs V', 'S', ' Profile Data'],
  ['YNa-YNl-YNs Characteristic V', 'S', ' Profile']
];

const plot = { left: 120, top: 22, width: 771, height: 771 };
const SX = 0.8;          // the original figure's text is horizontally condensed
const FONT = 38;
const GREY = '#adadad';
const BLUE = '#0000ff';

const svg = d3.select('#chart');

const x = d3.scaleLinear().domain([0, 1600]).range([plot.left, plot.left + plot.width]);
const y = d3.scaleLinear().domain([0, 100]).range([plot.top, plot.top + plot.height]);

svg.append('defs').append('clipPath').attr('id', 'plotClip')
  .append('rect')
  .attr('x', plot.left).attr('y', plot.top)
  .attr('width', plot.width).attr('height', plot.height);

const line = d3.line().x(d => x(d[0])).y(d => y(d[1]));

function stepPoints(top, layers) {
  const pts = [];
  let d0 = top;
  layers.forEach(([v, d1]) => {
    pts.push([v, d0], [v, d1]);
    d0 = d1;
  });
  return pts;
}

const data = svg.append('g').attr('clip-path', 'url(#plotClip)');

const greyPaths = stepProfiles.map(p => stepPoints(p[0], p[1])).concat(lineProfiles);

data.append('g').selectAll('path')
  .data(greyPaths)
  .enter()
  .append('path')
  .attr('d', line)
  .attr('fill', 'none')
  .attr('stroke', GREY)
  .attr('stroke-width', 1.4);

data.append('path')
  .attr('d', line(logMean))
  .attr('fill', 'none')
  .attr('stroke', BLUE)
  .attr('stroke-width', 4)
  .attr('stroke-dasharray', '10,5');

const charPts = stepPoints(charDepths[0], charVs.map((v, i) => [v, charDepths[i + 1]]));
data.append('path')
  .attr('d', line(charPts))
  .attr('fill', 'none')
  .attr('stroke', '#000')
  .attr('stroke-width', 4);

// axes (ticks point inward)
function addAxis(axis, tx, ty) {
  const g = svg.append('g')
    .attr('transform', `translate(${tx},${ty})`)
    .call(axis)
    .attr('font-family', null)
    .attr('font-size', FONT);
  g.select('.domain').attr('stroke', '#000').attr('stroke-width', 1.3);
  g.selectAll('.tick line').attr('stroke', '#000').attr('stroke-width', 1.3);
  return g;
}

const bottom = plot.top + plot.height;
const right = plot.left + plot.width;

const xAxis = addAxis(d3.axisBottom(x).tickValues(xTicks).tickFormat(d3.format('d'))
  .tickSizeInner(-20).tickSizeOuter(0).tickPadding(29), 0, bottom);
xAxis.selectAll('.tick text').attr('transform', `scale(${SX},1)`);
addAxis(d3.axisBottom(x).tickValues(xMinor).tickSizeInner(-10).tickSizeOuter(0).tickFormat(''), 0, bottom);
addAxis(d3.axisTop(x).tickValues(xTicks).tickSizeInner(-20).tickSizeOuter(0).tickFormat(''), 0, plot.top);
addAxis(d3.axisTop(x).tickValues(xMinor).tickSizeInner(-10).tickSizeOuter(0).tickFormat(''), 0, plot.top);

const yAxis = addAxis(d3.axisLeft(y).tickValues(yTicks).tickSizeInner(-20).tickSizeOuter(0), plot.left, 0);
yAxis.selectAll('.tick text').attr('x', -20 / SX).attr('transform', `scale(${SX},1)`);
addAxis(d3.axisLeft(y).tickValues(yMinor).tickSizeInner(-10).tickSizeOuter(0).tickFormat(''), plot.left, 0);

const countAxis = addAxis(
  d3.axisRight(y).tickValues(countDepths).tickSizeInner(-20).tickSizeOuter(0)
    .tickFormat(d => countLabels[countDepths.indexOf(d)]),
  right, 0);
countAxis.selectAll('.tick text').attr('x', 7 / SX).attr('transform', `scale(${SX},1)`);

// axis titles
function condensedText(tx, ty, parts, size, rotate) {
  const g = svg.append('g')
    .attr('transform', `translate(${tx},${ty}) scale(${SX},1)` + (rotate ? ` rotate(${rotate})` : ''));
  const t = g.append('text').attr('font-size', size).attr('text-anchor', 'middle');
  t.append('tspan').text(parts[0]);
  if (parts[1]) {
    t.append('tspan').attr('font-size', size * 0.68).attr('dy', size * 0.22).text(parts[1]);
    t.append('tspan').attr('dy', -size * 0.22).text(parts[2]);
  }
  return t;
}

condensedText((plot.left + right) / 2, 879, ['V', 'S', ' (m/s)'], FONT);
condensedText(40, plot.top + plot.height / 2, ['Depth (m)'], FONT, -90);
condensedText(978, 380, ['Count'], FONT, -90);

// legend
const legend = svg.append('g');
legend.append('rect')
  .attr('x', plot.left).attr('y', 889)
  .attr('width', 663).attr('height', 200)
  .attr('fill', 'none').attr('stroke', '#333').attr('stroke-width', 1.3);

const legendStyles = [
  { color: BLUE, width: 4, dash: '10,5' },
  { color: GREY, width: 1, dash: null },
  { color: '#000', width: 4, dash: null }
];
const rowY = [928, 971.5, 1015];

legendLabels.forEach((parts, i) => {
  legend.append('line')
    .attr('x1', 137).attr('x2', 177)
    .attr('y1', rowY[i]).attr('y2', rowY[i])
    .attr('stroke', legendStyles[i].color)
    .attr('stroke-width', legendStyles[i].width)
    .attr('stroke-dasharray', legendStyles[i].dash);
  const g = legend.append('g').attr('transform', `translate(200,${rowY[i] + 13}) scale(${SX},1)`);
  const t = g.append('text').attr('font-size', 40);
  t.append('tspan').text(parts[0]);
  if (parts[1]) {
    t.append('tspan').attr('font-size', 27).attr('dy', 9).text(parts[1]);
    t.append('tspan').attr('dy', -9).text(parts[2]);
  }
});
</script>
</body>
</html>
